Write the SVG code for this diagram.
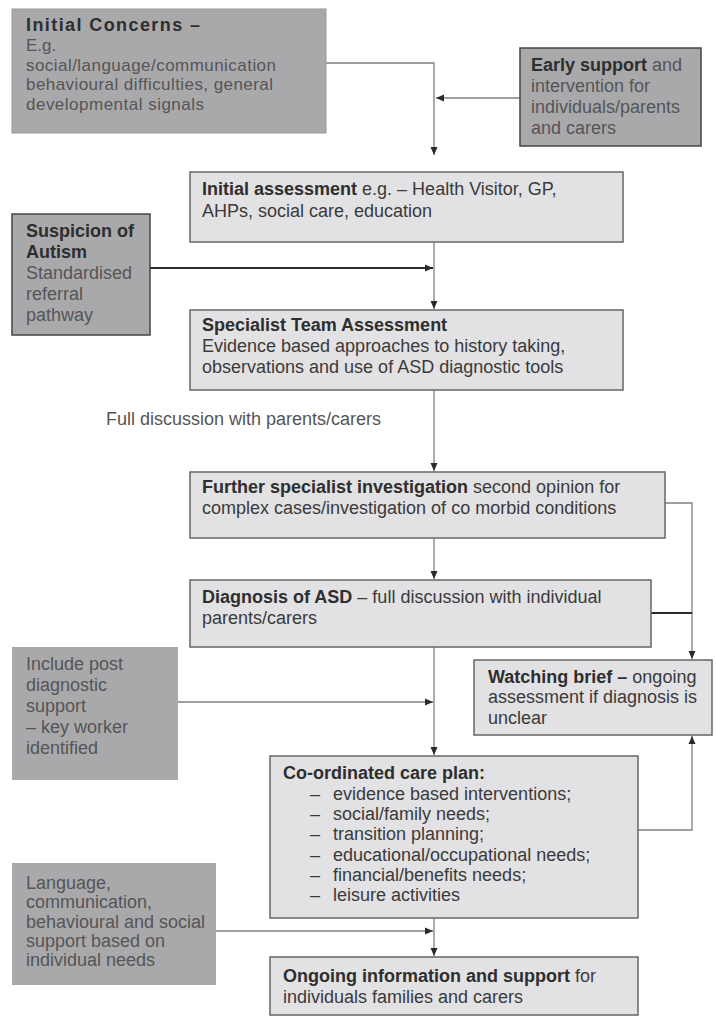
<svg xmlns="http://www.w3.org/2000/svg" width="716" height="1023" viewBox="0 0 716 1023">
<style>
text{font-family:"Liberation Sans",Arial,sans-serif;font-size:18px;fill:#3a3a3a}
.b{font-weight:bold;fill:#2e2e2e}
.g{fill:#555}
.s{font-size:17px}
.dark{fill:#a9a9ac}
.light{fill:#e2e2e4;stroke:#666;stroke-width:1.5}
.c{fill:none;stroke:#808080;stroke-width:1.3}
.ck{fill:none;stroke:#2a2a2a;stroke-width:2}
</style>
<defs>
<marker id="ah" markerWidth="8" markerHeight="8" refX="8" refY="4" orient="auto" markerUnits="userSpaceOnUse">
<path d="M0,0.5 L8,4 L0,7.5 z" fill="#2a2a2a"/>
</marker>
</defs>
<rect width="716" height="1023" fill="#fff"/>
<g id="connectors">
<polyline class="c" points="326,63 434,63 434,155" marker-end="url(#ah)"/>
<line class="c" x1="520" y1="98" x2="436" y2="98" stroke="#666" marker-end="url(#ah)"/>
<line class="c" x1="434" y1="242" x2="434" y2="309" marker-end="url(#ah)"/>
<line class="ck" x1="150" y1="268" x2="433" y2="268" marker-end="url(#ah)"/>
<line class="c" x1="434" y1="390" x2="434" y2="471" marker-end="url(#ah)"/>
<polyline class="c" points="665,503 692,503 692,659" marker-end="url(#ah)"/>
<line class="c" x1="434" y1="538" x2="434" y2="579" marker-end="url(#ah)"/>
<line class="ck" x1="647" y1="613" x2="692" y2="613" stroke-width="1.5"/>
<line class="c" x1="434" y1="647" x2="434" y2="755" marker-end="url(#ah)"/>
<line class="c" x1="178" y1="702" x2="433" y2="702" stroke="#6a6a6a" stroke-width="2" marker-end="url(#ah)"/>
<polyline class="c" points="638,830 692,830 692,736" marker-end="url(#ah)"/>
<line class="c" x1="434" y1="893" x2="434" y2="956" marker-end="url(#ah)"/>
<line class="c" x1="216" y1="931" x2="433" y2="931" stroke="#5a5a5a" stroke-width="1.6" marker-end="url(#ah)"/>
</g>
<g id="initial-concerns">
<rect class="dark" x="12" y="9" width="314" height="124" stroke="#999" stroke-width="1"/>
<text class="b" x="26" y="31" font-size="20" textLength="174">Initial Concerns –</text>
<text class="g s" x="26" y="51">E.g.</text>
<text class="g s" x="26" y="70.5" textLength="250">social/language/communication</text>
<text class="g s" x="26" y="90" textLength="247">behavioural difficulties, general</text>
<text class="g s" x="26" y="109.5" textLength="178">developmental signals</text>
</g>
<g id="early-support">
<rect class="dark" x="520" y="48" width="181" height="98" stroke="#444" stroke-width="1.5"/>
<text x="531" y="71"><tspan class="b">Early support</tspan><tspan class="g"> and</tspan></text>
<text class="g" x="531" y="92">intervention for</text>
<text class="g" x="531" y="113">individuals/parents</text>
<text class="g" x="531" y="134">and carers</text>
</g>
<g id="initial-assessment">
<rect class="light" x="190" y="172" width="433" height="70"/>
<text x="202" y="195"><tspan class="b">Initial assessment</tspan> e.g. – Health Visitor, GP,</text>
<text x="202" y="217">AHPs, social care, education</text>
</g>
<g id="suspicion">
<rect class="dark" x="12" y="214" width="138" height="121" stroke="#444" stroke-width="1.5"/>
<text class="b" x="26" y="237">Suspicion of</text>
<text class="b" x="26" y="258">Autism</text>
<text class="g" x="26" y="279">Standardised</text>
<text class="g" x="26" y="300">referral</text>
<text class="g" x="26" y="321">pathway</text>
</g>
<g id="specialist">
<rect class="light" x="190" y="310" width="433" height="80"/>
<text class="b" x="202" y="331">Specialist Team Assessment</text>
<text x="202" y="352">Evidence based approaches to history taking,</text>
<text x="202" y="373">observations and use of ASD diagnostic tools</text>
</g>
<g id="full-discussion">
<text class="g" x="106" y="425">Full discussion with parents/carers</text>
</g>
<g id="further">
<rect class="light" x="190" y="472" width="475" height="66"/>
<text x="202" y="493"><tspan class="b">Further specialist investigation</tspan> second opinion for</text>
<text x="202" y="514">complex cases/investigation of co morbid conditions</text>
</g>
<g id="diagnosis">
<rect class="light" x="190" y="580" width="461" height="67"/>
<text x="202" y="603"><tspan class="b">Diagnosis of ASD</tspan> – full discussion with individual</text>
<text x="202" y="624">parents/carers</text>
</g>
<g id="post-diagnostic">
<rect class="dark" x="12" y="647" width="166" height="133"/>
<text class="g" x="26" y="670">Include post</text>
<text class="g" x="26" y="691">diagnostic</text>
<text class="g" x="26" y="712">support</text>
<text class="g" x="26" y="733"> – key worker</text>
<text class="g" x="26" y="754">identified</text>
</g>
<g id="watching-brief">
<rect class="light" x="474" y="660" width="238" height="75"/>
<text x="488" y="683"><tspan class="b">Watching brief –</tspan> ongoing</text>
<text x="488" y="703">assessment if diagnosis is</text>
<text x="488" y="724">unclear</text>
</g>
<g id="care-plan">
<rect class="light" x="270" y="756" width="368" height="162"/>
<text class="b" x="283" y="779">Co-ordinated care plan:</text>
<text x="310" y="800" fill="#aaa">–</text><text x="333" y="800">evidence based interventions;</text>
<text x="310" y="820" fill="#aaa">–</text><text x="333" y="820">social/family needs;</text>
<text x="310" y="840" fill="#222">–</text><text x="333" y="840">transition planning;</text>
<text x="310" y="861" fill="#222">–</text><text x="333" y="861">educational/occupational needs;</text>
<text x="310" y="881" fill="#222">–</text><text x="333" y="881">financial/benefits needs;</text>
<text x="310" y="901" fill="#222">–</text><text x="333" y="901">leisure activities</text>
</g>
<g id="language">
<rect class="dark" x="12" y="863" width="204" height="122"/>
<text class="g" x="26" y="889">Language,</text>
<text class="g" x="26" y="908">communication,</text>
<text class="g" x="26" y="928">behavioural and social</text>
<text class="g" x="26" y="947">support based on</text>
<text class="g" x="26" y="966">individual needs</text>
</g>
<g id="ongoing">
<rect class="light" x="270" y="957" width="368" height="58"/>
<text x="283" y="982"><tspan class="b">Ongoing information and support</tspan> for</text>
<text x="283" y="1003">individuals families and carers</text>
</g>
</svg>
